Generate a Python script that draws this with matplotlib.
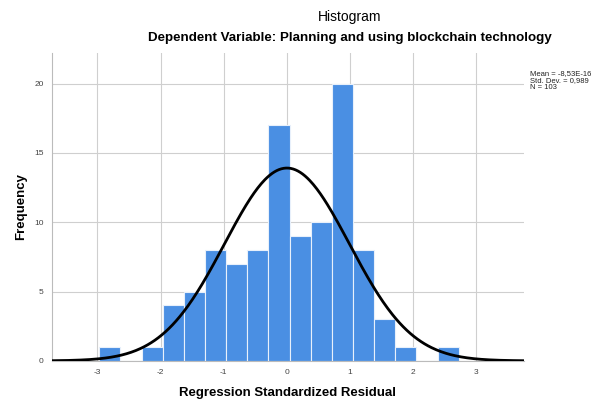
import numpy as np
import matplotlib
matplotlib.use("Agg")
import matplotlib.pyplot as plt

plt.rcParams['font.family'] = ['Liberation Sans', 'DejaVu Sans']
plt.rcParams['axes.unicode_minus'] = False

# histogram of regression standardized residuals
bin_start = -2.97
bin_width = 0.3347
counts = [1, 0, 1, 4, 5, 8, 7, 8, 17, 9, 10, 20, 8, 3, 1, 0, 1]

# fitted normal curve statistics shown on the chart
mean = 0.0
std = 0.989
n = 103
stat_lines = ["Mean = -8,53E-16", "Std. Dev. = 0,989", "N = 103"]

xticks = [-3, -2, -1, 0, 1, 2, 3]
yticks = [0, 5, 10, 15, 20]

edges = bin_start + bin_width * np.arange(len(counts) + 1)

fig = plt.figure(figsize=(6.08, 4.05), dpi=100)
ax = fig.add_axes([0.0855, 0.109, 0.776, 0.76])

ax.bar(edges[:-1], counts, width=bin_width, align='edge',
       color='#4a8fe3', edgecolor='#e8f0fb', linewidth=0.8, zorder=2)

xs = np.linspace(-3.72, 3.75, 400)
ys = n * bin_width * np.exp(-0.5 * ((xs - mean) / std) ** 2) / (std * np.sqrt(2 * np.pi))
ax.plot(xs, ys, color='black', linewidth=2, zorder=3)

ax.set_xlim(-3.72, 3.75)
ax.set_ylim(0, 22.2)
ax.set_xticks(xticks)
ax.set_yticks(yticks)
ax.grid(True, color='#cfcfcf', linewidth=0.8, zorder=0)
ax.set_axisbelow(True)
ax.tick_params(length=0, labelsize=6, colors='#444444', pad=6)
for s in ['top', 'right']:
    ax.spines[s].set_visible(False)
ax.spines['left'].set_color('#bbbbbb')
ax.spines['bottom'].set_color('#bbbbbb')

ax.set_xlabel('Regression Standardized Residual', fontsize=9.5, fontweight='bold', labelpad=8)
ax.set_ylabel('Frequency', fontsize=9.5, fontweight='bold', labelpad=5)

fig.text(350 / 608, 1 - 17 / 405, 'Histogram', ha='center', va='center', fontsize=10)
fig.text(350 / 608, 1 - 38 / 405, 'Dependent Variable: Planning and using blockchain technology',
         ha='center', va='center', fontsize=9.6, fontweight='bold')

fig.text(530 / 608, 1 - 70 / 405, '\n'.join(stat_lines), ha='left', va='top',
         fontsize=5.5, linespacing=1.0, color='#222222')

fig.savefig('out.png', dpi=100)
